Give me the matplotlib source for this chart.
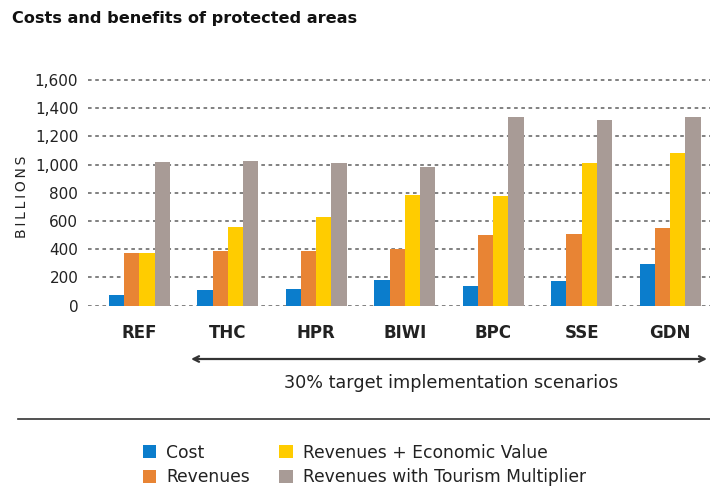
import numpy as np
import matplotlib.pyplot as plt
from matplotlib.patches import Patch

plt.rcParams['font.family'] = ['DejaVu Sans']

## Data
scenarios = ['REF', 'THC', 'HPR', 'BIWI', 'BPC', 'SSE', 'GDN']
cost = [75, 110, 118, 182, 140, 175, 296]
revenues = [372, 387, 387, 402, 500, 508, 551]
rev_econ = [372, 558, 628, 785, 778, 1010, 1083]
rev_tourism = [1018, 1025, 1012, 983, 1338, 1317, 1338]

series = [cost, revenues, rev_econ, rev_tourism]
names = ['Cost', 'Revenues', 'Revenues + Economic Value', 'Revenues with Tourism Multiplier']
colors = ['#0B7DCC', '#E88434', '#FFCC00', '#A89B96']

W, H = 710, 488
fig = plt.figure(figsize=(W / 100, H / 100), dpi=100)
# y range -5..1610 -> pixel rows 306.4..78.6
ax = fig.add_axes([88 / W, 1 - 306.4 / H, 1 - 88 / W, (306.4 - 78.6) / H])

x = np.arange(len(scenarios))
bw = 0.172
for k, (vals, c) in enumerate(zip(series, colors)):
    ax.bar(x + (k - 1.5) * bw, vals, bw, color=c, zorder=3, linewidth=0)

ax.set_ylim(-5, 1610)
ax.set_xlim(-0.58, 6.45)
ax.set_yticks(np.arange(0, 1601, 200))
ax.set_yticklabels([f'{v:,}' for v in range(0, 1601, 200)], fontsize=11, color='#222222')
ax.yaxis.grid(True, linestyle=(0, (2, 2)), color='#777777', linewidth=1.3, zorder=0)
ax.tick_params(axis='y', length=0, pad=7)
ax.set_xticks(x)
ax.set_xticklabels(scenarios, fontsize=12, fontweight='bold', color='#222222')
ax.tick_params(axis='x', length=0, pad=13)
for s in ax.spines.values():
    s.set_visible(False)
ax.set_ylabel('\u2009'.join('BILLIONS'), fontsize=10, color='#222222')
ax.yaxis.set_label_coords(-0.095, 0.48)

# title
fig.text(12 / W, 1 - 18 / H, 'Costs and benefits of protected areas', fontsize=11.6,
         fontweight='bold', color='#111111', va='center', ha='left')

# arrow for the 30% scenarios
ax.annotate('', xy=(707 / W, 1 - 359 / H), xytext=(191 / W, 1 - 359 / H),
            xycoords='figure fraction', textcoords='figure fraction',
            arrowprops=dict(arrowstyle='<->', color='#333333', lw=1.6,
                            mutation_scale=10, shrinkA=0, shrinkB=0))
fig.text(451 / W, 1 - 383 / H, '30% target implementation scenarios', fontsize=12.7,
         color='#222222', ha='center', va='center')

# separator rule
fig.add_artist(plt.Line2D([18 / W, 1], [1 - 419 / H, 1 - 419 / H], color='#333333', lw=1.2))

# legend
handles = [Patch(facecolor=c, edgecolor='none') for c in colors]
fig.legend(handles, names, ncol=2, loc='upper left', bbox_to_anchor=(136 / W, 1 - 437 / H),
           frameon=False, fontsize=12.3, handlelength=0.78, handleheight=0.78,
           handletextpad=0.6, columnspacing=1.7, labelspacing=0.38,
           borderaxespad=0, labelcolor='#222222')

plt.savefig('out.png', dpi=100)
